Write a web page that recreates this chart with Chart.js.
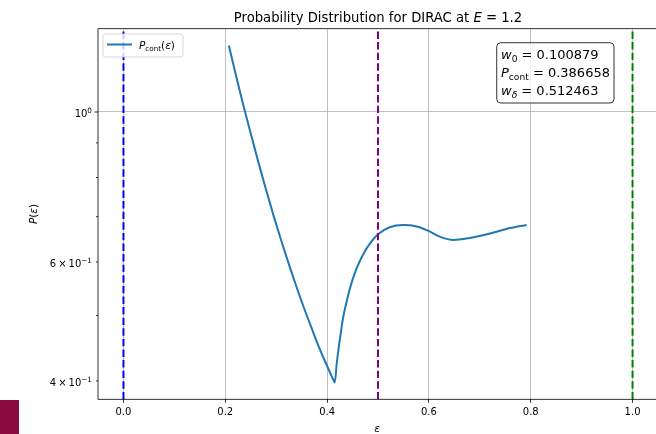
<!DOCTYPE html>
<html>
<head>
<meta charset="utf-8">
<script src="https://cdn.jsdelivr.net/npm/chart.js@4.4.1/dist/chart.umd.min.js"></script>
<style>
  html, body { margin: 0; padding: 0; background: #fff; overflow: hidden; width: 656px; height: 434px; }
  #wrap { position: relative; width: 662px; height: 434px; }
  #c { display: block; }
  #badge { position: absolute; left: 0; top: 400px; width: 19px; height: 34px; background: #8a0b40; }
</style>
</head>
<body>
<div id="wrap">
  <canvas id="c" width="662" height="434"></canvas>
  <div id="badge"></div>
</div>
<script>
// ---- data ----
const systemName = 'DIRAC';
const energy = 1.2;

// continuum part of the distribution, P_cont(eps)
const epsilon = [0.207, 0.220, 0.235, 0.250, 0.265, 0.280, 0.295, 0.310, 0.325, 0.340,
                 0.355, 0.370, 0.385, 0.400, 0.411, 0.415, 0.419, 0.423, 0.427, 0.431,
                 0.438, 0.445, 0.456, 0.471, 0.484, 0.500, 0.523, 0.549, 0.576, 0.598,
                 0.621, 0.648, 0.680, 0.720, 0.759, 0.792];
const pCont   = [1.254, 1.141, 1.027, 0.929, 0.843, 0.768, 0.702, 0.645, 0.595, 0.551,
                 0.512, 0.478, 0.447, 0.421, 0.4035, 0.398, 0.4249, 0.4492, 0.4714, 0.4941,
                 0.5226, 0.5487, 0.5822, 0.6161, 0.6387, 0.6595, 0.6754, 0.6802, 0.677, 0.6675,
                 0.654, 0.6466, 0.651, 0.661, 0.6735, 0.6806];

// reference positions drawn as dashed vertical lines
const markerEps = [0.0, 0.5, 1.0];

// weights reported in the text box
const weightNames  = ['w0', 'Pcont', 'wdelta'];
const weightValues = [0.100879, 0.386658, 0.512463];

// tick values
const xTicks = [0.0, 0.2, 0.4, 0.6, 0.8, 1.0];
const yMajorTicks = [1.0];
const yMinorTicks = [0.4, 0.5, 0.6, 0.7, 0.8, 0.9];
const yLabeledTicks = [0.4, 0.6, 1.0];

// ---- styles ----
const markerColors = ['#0000ff', '#800080', '#008000'];
const FONT = '"DejaVu Sans", "Liberation Sans", sans-serif';

// ---- axis limits with 5% margins (log margins on y) ----
const xDataMin = Math.min(...epsilon, ...markerEps);
const xDataMax = Math.max(...epsilon, ...markerEps);
const xPad = 0.05 * (xDataMax - xDataMin);
const xMin = xDataMin - xPad, xMax = xDataMax + xPad;
const lyMin = Math.log10(Math.min(...pCont)), lyMax = Math.log10(Math.max(...pCont));
const lyPad = 0.05 * (lyMax - lyMin);
const yMin = Math.pow(10, lyMin - lyPad), yMax = Math.pow(10, lyMax + lyPad);

// ---- mixed-style text helpers (italic / sub / superscript runs) ----
function fontOf(r, base) {
  return (r.it ? 'italic ' : '') + (r.s || base) + 'px ' + FONT;
}
function runsWidth(ctx, runs, base) {
  let w = 0;
  for (const r of runs) { ctx.font = fontOf(r, base); w += ctx.measureText(r.t).width; }
  return w;
}
function drawRuns(ctx, runs, x, y, base, align, color) {
  const w = runsWidth(ctx, runs, base);
  let cx = align === 'right' ? x - w : align === 'center' ? x - w / 2 : x;
  ctx.textAlign = 'left';
  ctx.textBaseline = 'alphabetic';
  ctx.fillStyle = color || '#000';
  for (const r of runs) {
    ctx.font = fontOf(r, base);
    ctx.fillText(r.t, cx, y + (r.dy || 0));
    cx += ctx.measureText(r.t).width;
  }
}
function roundRect(ctx, x, y, w, h, r) {
  ctx.beginPath();
  ctx.moveTo(x + r, y);
  ctx.lineTo(x + w - r, y);
  ctx.arcTo(x + w, y, x + w, y + r, r);
  ctx.lineTo(x + w, y + h - r);
  ctx.arcTo(x + w, y + h, x + w - r, y + h, r);
  ctx.lineTo(x + r, y + h);
  ctx.arcTo(x, y + h, x, y + h - r, r);
  ctx.lineTo(x, y + r);
  ctx.arcTo(x, y, x + r, y, r);
  ctx.closePath();
}
function sciRuns(v) {
  const e = Math.floor(Math.log10(v) + 1e-9);
  const m = Math.round(v / Math.pow(10, e));
  const expText = (e < 0 ? '\u2212' : '') + Math.abs(e);
  const sup = { t: expText, s: 7.3, dy: -4.8 };
  if (m === 1) return [{ t: '10' }, sup];
  return [{ t: String(m) }, { t: '\u2009\u00d7\u2009' }, { t: '10' }, sup];
}
const subLabels = { w0: [{ t: 'w', it: true }, { t: '0', s: 9.1, dy: 2.6 }],
                    Pcont: [{ t: 'P', it: true }, { t: 'cont', s: 9.1, dy: 2.6 }],
                    wdelta: [{ t: 'w', it: true }, { t: '\u03b4', it: true, s: 9.1, dy: 2.6 }] };

// ---- decorations: frame, y tick marks/labels, legend, text box, title, axis labels ----
const decor = {
  id: 'decor',
  afterDatasetsDraw(chart) {
    const { ctx, chartArea: a, scales } = chart;
    const ys = scales.y;
    ctx.save();

    // axes frame
    ctx.strokeStyle = '#000';
    ctx.lineWidth = 0.8;
    ctx.strokeRect(a.left, a.top, a.right - a.left, a.bottom - a.top);

    // y tick marks (major longer than minor)
    ctx.beginPath();
    for (const v of yMajorTicks) { const p = ys.getPixelForValue(v); ctx.moveTo(a.left, p); ctx.lineTo(a.left - 3.5, p); }
    for (const v of yMinorTicks) { const p = ys.getPixelForValue(v); ctx.moveTo(a.left, p); ctx.lineTo(a.left - 2, p); }
    ctx.stroke();

    // y tick labels
    for (const v of yLabeledTicks) {
      const p = ys.getPixelForValue(v);
      drawRuns(ctx, sciRuns(v), a.left - 6, p + 5.5, 10, 'right', '#000');
    }

    // legend
    const lx = a.left + 5, ly = a.top + 5.3;
    roundRect(ctx, lx, ly, 80, 23, 2.5);
    ctx.fillStyle = 'rgba(255,255,255,0.8)';
    ctx.fill();
    ctx.strokeStyle = 'rgba(204,204,204,0.8)';
    ctx.lineWidth = 1;
    ctx.stroke();
    ctx.beginPath();
    ctx.moveTo(lx + 4, ly + 10.5);
    ctx.lineTo(lx + 29, ly + 10.5);
    ctx.strokeStyle = '#1f77b4';
    ctx.lineWidth = 2;
    ctx.stroke();
    drawRuns(ctx, [{ t: 'P', it: true }, { t: 'cont', s: 7.2, dy: 2 }, { t: '(' }, { t: '\u03b5', it: true }, { t: ')' }],
             lx + 36, ly + 14.5, 10.5, 'left', '#000');

    // weights text box
    const bw = a.right - a.left, bh = a.bottom - a.top;
    const bx = a.left + 0.712 * bw, by = a.top + 0.0378 * bh;
    roundRect(ctx, bx, by, 117.3, 60.3, 4);
    ctx.fillStyle = 'rgba(255,255,255,0.8)';
    ctx.fill();
    ctx.strokeStyle = 'rgba(0,0,0,0.8)';
    ctx.lineWidth = 1;
    ctx.stroke();
    weightNames.forEach((n, i) => {
      const runs = subLabels[n].concat([{ t: ' = ' + weightValues[i].toFixed(6) }]);
      drawRuns(ctx, runs, bx + 4.3, by + 16.6 + i * 17.8, 13, 'left', '#000');
    });

    ctx.restore();
  },
  afterDraw(chart) {
    const { ctx, chartArea: a } = chart;
    ctx.save();
    const cx = (a.left + a.right) / 2;
    // title
    drawRuns(ctx, [{ t: 'Probability Distribution for ' + systemName + ' at ' }, { t: 'E', it: true },
                   { t: ' = ' + energy.toFixed(1) }], cx, a.top - 6.5, 13.2, 'center', '#000');
    // x label
    drawRuns(ctx, [{ t: '\u03b5', it: true }], cx - 1, 432, 10.5, 'center', '#000');
    // y label
    ctx.translate(36.5, (a.top + a.bottom) / 2);
    ctx.rotate(-Math.PI / 2);
    drawRuns(ctx, [{ t: 'P', it: true }, { t: '(' }, { t: '\u03b5', it: true }, { t: ')' }], 0, 0, 10.5, 'center', '#000');
    ctx.restore();
  }
};

// ---- datasets ----
const datasets = [{
  label: 'P_cont(eps)',
  data: epsilon.map((x, i) => ({ x, y: pCont[i] })),
  borderColor: '#1f77b4',
  borderWidth: 2,
  pointRadius: 0,
  cubicInterpolationMode: 'monotone',
  fill: false,
  order: 1
}];
markerEps.forEach((e, i) => {
  datasets.push({
    label: 'marker ' + e,
    data: [{ x: e, y: yMin }, { x: e, y: yMax }],
    borderColor: markerColors[i],
    borderWidth: 2,
    borderDash: [7.4, 3.2],
    borderCapStyle: 'butt',
    pointRadius: 0,
    fill: false,
    order: 0
  });
});

new Chart(document.getElementById('c'), {
  type: 'line',
  data: { datasets },
  plugins: [decor],
  options: {
    responsive: false,
    animation: false,
    devicePixelRatio: 1,
    layout: { padding: { top: 28.7, right: 4, left: 0, bottom: 0 } },
    plugins: { legend: { display: false }, tooltip: { enabled: false }, title: { display: false } },
    scales: {
      x: {
        type: 'linear',
        min: xMin, max: xMax,
        afterBuildTicks: s => { s.ticks = xTicks.map(v => ({ value: v })); },
        afterFit: s => { s.height = 34.7; },
        grid: { color: '#b0b0b0', lineWidth: 0.8, drawTicks: true, tickLength: 3.5, tickColor: '#000', tickWidth: 0.8 },
        border: { display: false },
        ticks: { font: { family: FONT, size: 10 }, color: '#000', padding: 3.5, maxRotation: 0, autoSkip: false,
                 callback: v => Number(v).toFixed(1) }
      },
      y: {
        type: 'logarithmic',
        min: yMin, max: yMax,
        afterBuildTicks: s => {
          s.ticks = [...yMinorTicks, ...yMajorTicks].sort((p, q) => p - q).map(v => ({ value: v }));
        },
        afterFit: s => { s.width = 98; },
        grid: {
          color: c => (c.tick && yMajorTicks.includes(c.tick.value)) ? '#b0b0b0' : 'rgba(0,0,0,0)',
          lineWidth: 0.8,
          drawTicks: false
        },
        border: { display: false },
        ticks: { display: false }
      }
    }
  }
});
</script>
</body>
</html>
